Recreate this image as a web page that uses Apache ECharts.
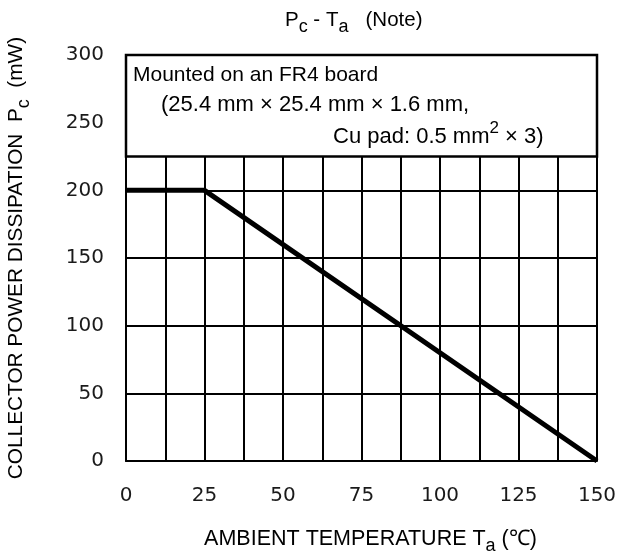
<!DOCTYPE html>
<html>
<head>
<meta charset="utf-8">
<script src="https://cdn.jsdelivr.net/npm/echarts@6/dist/echarts.min.js"></script>
<style>html,body{margin:0;padding:0;background:#fff}#c{width:620px;height:557px}</style>
</head>
<body>
<div id="c"></div>
<script>
// Data
var temperature = [0, 25, 150];          // Ta (°C)
var powerDissipation = [200, 200, 0];   // Pc (mW)
var xTickLabels = [0, 25, 50, 75, 100, 125, 150];
var yTickLabels = [0, 50, 100, 150, 200, 250, 300];
var noteBox = { xFrom: 0, xTo: 150, yFrom: 225, yTo: 300 };
var noteLines = [
  'Mounted on an FR4 board',
  '(25.4 mm \u00d7 25.4 mm \u00d7 1.6 mm,',
  'Cu pad: 0.5 mm',
  '2',
  ' \u00d7 3)'
];

var chart = echarts.init(document.getElementById('c'));
var arial = '"Liberation Sans", Arial, sans-serif';
var dejavu = '"DejaVu Sans", sans-serif';
function subRich(main, sub, shift) {
  return {
    m: { fontFamily: arial, fontSize: main, fontWeight: 'normal', color: '#000', lineHeight: main + 2 },
    s: { fontFamily: arial, fontSize: sub, fontWeight: 'normal', color: '#000', lineHeight: sub, padding: [shift, 0, 0, 0] }
  };
}
var seriesData = temperature.map(function (t, i) { return [t, powerDissipation[i]]; });

chart.setOption({
  animation: false,
  backgroundColor: '#fff',
  title: {
    text: '{m|P}{s|c}{m| - T}{s|a}{m|   (Note)}',
    left: 280,
    top: 4,
    textStyle: { fontWeight: 'normal', rich: subRich(20.5, 18, 14) }
  },
  grid: { left: 126, right: 23, top: 55, bottom: 96, containLabel: false, outerBoundsMode: 'none' },
  xAxis: {
    type: 'value',
    min: 0, max: 150, interval: 12.5,
    name: '{m|AMBIENT TEMPERATURE T}{s|a}{m| (\u2103)}',
    nameLocation: 'middle',
    nameGap: 66,
    nameTextStyle: { rich: subRich(21.5, 18, 14), padding: [0, 0, 0, 18] },
    axisLine: { show: true, lineStyle: { color: '#000', width: 2 } },
    axisTick: { show: false },
    axisLabel: {
      margin: 25,
      fontFamily: dejavu, fontSize: 20, color: '#1a1a1a',
      formatter: function (v) { return xTickLabels.indexOf(v) >= 0 ? String(v) : ''; }
    },
    splitLine: { show: true, lineStyle: { color: '#000', width: 2 } }
  },
  yAxis: {
    type: 'value',
    min: 0, max: 300, interval: 50,
    name: '{m|COLLECTOR POWER DISSIPATION  P}{s|c}{m|  (mW)}',
    nameLocation: 'middle',
    nameRotate: 90,
    nameGap: 98,
    nameTextStyle: { rich: subRich(20.8, 18, 14) },
    axisLine: { show: true, lineStyle: { color: '#000', width: 2 } },
    axisTick: { show: false },
    axisLabel: {
      margin: 22,
      fontFamily: dejavu, fontSize: 20, color: '#1a1a1a',
      formatter: function (v) { return yTickLabels.indexOf(v) >= 0 ? String(v) : ''; }
    },
    splitLine: { show: true, lineStyle: { color: '#000', width: 2 } }
  },
  series: [{
    type: 'line',
    data: seriesData,
    symbol: 'none',
    clip: false,
    lineStyle: { color: '#000', width: 5 },
    markArea: {
      silent: true,
      itemStyle: { color: '#fff', borderColor: '#000', borderWidth: 2.5, opacity: 1 },
      label: { show: false },
      data: [[{ coord: [noteBox.xFrom, noteBox.yTo] }, { coord: [noteBox.xTo, noteBox.yFrom] }]]
    },
    z: 3
  }],
  graphic: [
    { type: 'text', left: 133, top: 65, z: 10,
      style: { text: noteLines[0], font: '21px "Liberation Sans", Arial, sans-serif', fill: '#000' } },
    { type: 'text', left: 161, top: 94, z: 10,
      style: { text: noteLines[1], font: '22px "Liberation Sans", Arial, sans-serif', fill: '#000' } },
    { type: 'text', left: 333, top: 118, z: 10,
      style: {
        text: '{m|' + noteLines[2] + '}{sup|' + noteLines[3] + '}{m|' + noteLines[4] + '}',
        rich: {
          m: { fontFamily: arial, fontSize: 22, lineHeight: 24, color: '#000', padding: [8, 0, 0, 0] },
          sup: { fontFamily: arial, fontSize: 17, lineHeight: 17, color: '#000', padding: [0, 0, 9, 0] }
        }
      } }
  ]
});
</script>
</body>
</html>
